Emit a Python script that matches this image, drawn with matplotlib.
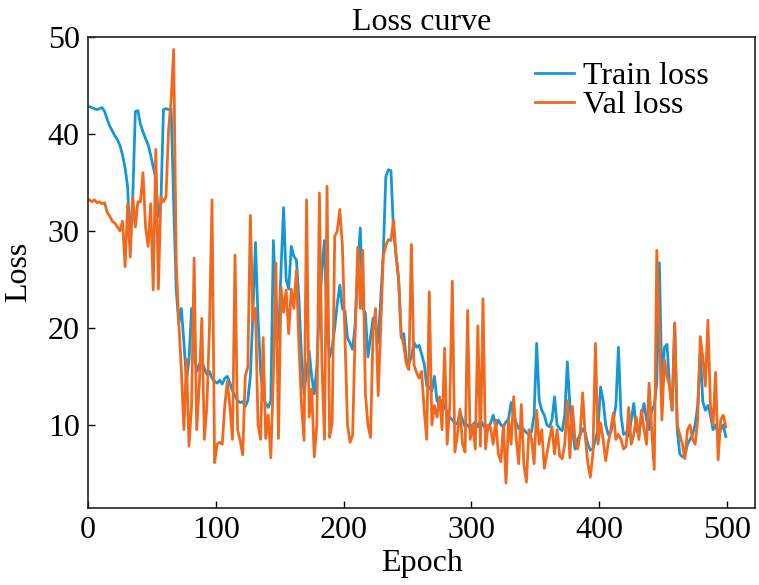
import numpy as np
import matplotlib
matplotlib.use('Agg')
import matplotlib.pyplot as plt

plt.rcParams['font.family'] = ['Liberation Serif', 'DejaVu Serif']

# epochs sampled every 2 (1, 3, ..., 499)
epochs = np.arange(1, 500, 2)

train_loss = [
    42.8, 42.7, 42.6, 42.5, 42.6, 42.7, 42.3, 41.5, 40.8, 40.3,
    39.8, 39.4, 38.8, 37.8, 36.5, 34.5, 28.4, 33.5, 42.3, 42.4,
    41.0, 40.2, 39.5, 38.9, 37.8, 36.6, 35.4, 31.5, 32.8, 42.5,
    42.6, 42.5, 42.6, 33.0, 23.9, 20.5, 22.0, 18.5, 14.6, 16.7,
    22.0, 17.5, 15.5, 16.2, 16.7, 15.8, 15.2, 15.5, 14.8, 14.5,
    14.3, 14.6, 14.2, 14.8, 15.0, 14.3, 13.5, 13.0, 12.5, 12.3,
    12.4, 11.9, 12.5, 15.0, 21.5, 28.8, 21.0, 15.5, 12.9, 12.2,
    11.8, 12.5, 29.0, 22.5, 18.8, 26.0, 32.4, 25.0, 24.0, 28.4,
    27.4, 27.0, 23.0, 17.0, 13.2, 15.5, 17.6, 15.0, 13.2, 16.0,
    22.0, 26.0, 29.0, 20.0, 17.0, 18.0, 20.0, 22.5, 24.4, 22.0,
    21.7, 19.0, 18.4, 17.8, 20.3, 26.0, 30.3, 22.0, 21.5, 17.0,
    19.0, 21.0, 20.5, 18.5, 23.0, 27.7, 35.6, 36.3, 36.2, 30.0,
    27.5, 25.0, 19.0, 19.4, 16.8, 16.3, 17.0, 18.5, 18.0, 18.2,
    17.3, 16.3, 14.0, 13.9, 13.5, 15.0, 12.5, 12.0, 12.5, 11.8,
    11.3, 10.8, 10.5, 10.2, 10.1, 11.3, 10.5, 9.8, 10.0, 9.6,
    10.0, 10.3, 9.8, 10.5, 10.0, 9.6, 9.5, 10.2, 11.0, 9.8,
    10.5, 10.0, 9.8, 10.3, 10.6, 12.3, 11.0, 10.2, 9.6, 9.8,
    9.5, 9.2, 9.0, 9.3, 11.0, 18.4, 12.5, 11.5, 11.0, 10.0,
    9.8, 10.5, 12.9, 10.0, 9.6, 9.4, 11.0, 16.5, 12.0, 9.5,
    7.5, 8.5, 9.0, 9.6, 9.2, 8.0, 7.4, 7.5, 8.5, 9.5,
    13.9, 12.5, 10.0, 9.0, 9.2, 10.5, 12.0, 18.0, 11.0, 9.0,
    9.2, 8.8, 10.5, 12.2, 9.5, 9.0, 11.0, 12.2, 10.5, 9.5,
    11.5, 12.0, 14.3, 26.7, 14.0, 18.0, 18.3, 14.0, 11.5, 20.5,
    9.5, 7.0, 6.7, 6.8, 8.0, 8.5, 9.0, 10.0, 12.0, 17.5,
    12.4, 11.5, 12.0, 11.0, 9.5, 10.0, 9.0, 9.5, 10.0, 8.8,
]

val_loss = [
    33.2, 33.0, 33.2, 32.9, 33.0, 32.8, 32.9, 31.9, 31.5, 31.0,
    30.8, 30.4, 30.0, 31.0, 26.3, 32.8, 27.3, 33.5, 30.4, 33.0,
    33.0, 36.0, 30.4, 28.4, 32.8, 23.9, 38.4, 24.0, 33.5, 33.0,
    33.5, 40.4, 43.5, 48.7, 26.7, 20.5, 15.7, 9.5, 16.8, 7.8,
    12.0, 27.2, 9.5, 14.0, 21.0, 8.5, 12.0, 20.0, 33.2, 6.1,
    8.0, 8.2, 8.0, 12.0, 14.5, 11.9, 8.5, 27.5, 9.5, 8.4,
    6.9, 15.0, 16.0, 31.6, 20.7, 22.0, 10.0, 8.5, 19.0, 8.6,
    11.0, 6.6, 15.0, 26.7, 8.6, 24.2, 21.6, 23.9, 19.4, 24.0,
    22.0, 25.9, 18.3, 12.1, 8.4, 33.2, 10.8, 13.7, 6.7, 10.0,
    33.9, 16.3, 8.5, 34.6, 8.7, 10.2, 29.4, 30.0, 32.2, 28.5,
    19.3, 10.0, 8.2, 8.9, 19.5, 28.3, 22.0, 28.0, 13.2, 10.0,
    8.7, 19.6, 22.0, 13.0, 20.0, 27.4, 28.5, 29.1, 29.0, 31.1,
    27.5, 25.0, 19.4, 18.2, 16.3, 15.7, 28.6, 16.2, 15.4, 14.8,
    15.5, 11.5, 8.5, 23.7, 10.0, 12.0, 10.8, 12.9, 9.5, 17.9,
    8.0, 12.0, 24.8, 7.2, 9.0, 11.6, 8.0, 7.2, 21.8, 8.5,
    10.0, 7.5, 20.2, 7.8, 23.0, 7.5, 10.0, 9.7, 8.0, 10.5,
    7.0, 6.2, 10.0, 4.0, 10.5, 8.0, 12.9, 8.5, 6.0, 12.1,
    5.9, 4.1, 9.5, 8.5, 6.0, 11.5, 8.0, 9.5, 5.5, 7.0,
    8.5, 9.8, 7.0, 9.5, 6.8, 6.5, 8.0, 12.5, 6.6, 11.9,
    8.5, 7.5, 9.0, 13.3, 8.8, 6.1, 4.6, 7.0, 18.4, 8.0,
    10.2, 8.5, 6.3, 8.1, 9.5, 11.2, 8.5, 9.0, 8.5, 7.5,
    7.8, 11.8, 8.0, 9.0, 10.8, 8.5, 11.5, 9.5, 8.0, 14.3,
    9.5, 5.4, 28.0, 19.8, 10.5, 16.7, 15.0, 14.0, 11.5, 20.5,
    10.0, 9.0, 8.0, 6.5, 9.5, 10.0, 8.5, 8.0, 10.5, 19.1,
    17.0, 14.0, 20.8, 12.0, 10.0, 15.4, 6.4, 10.5, 11.0, 9.8,
]

x_ticks = [0, 100, 200, 300, 400, 500]
y_ticks = [10, 20, 30, 40, 50]

fig = plt.figure(figsize=(7.59, 5.85), dpi=100)
ax = fig.add_axes([0.116, 0.132, 0.879, 0.805])

ax.plot(epochs, train_loss, color='#1597d6', linewidth=2.0, label='Train loss')
ax.plot(epochs, val_loss, color='#f0691e', linewidth=2.0, label='Val loss')

ax.set_xlim(0, 522)
ax.set_ylim(1.45, 50)
ax.set_xticks(x_ticks)
ax.set_yticks(y_ticks)
ax.tick_params(direction='in', length=5, width=1.0, labelsize=23, pad=6)

for sp in ax.spines.values():
    sp.set_linewidth(1.2)
    sp.set_color('#222222')

ax.set_title('Loss curve', fontsize=23, pad=5)
ax.set_xlabel('Epoch', fontsize=23)
ax.set_ylabel('Loss', fontsize=23)
ax.xaxis.set_label_coords(0.5, -0.088)
ax.yaxis.set_label_coords(-0.082, 0.5)

ax.legend(loc='upper right', bbox_to_anchor=(0.95, 0.975), frameon=False,
          fontsize=23, handlelength=1.2, handletextpad=0.3,
          labelspacing=0.0, borderaxespad=0)

fig.savefig('out.png', dpi=100)
